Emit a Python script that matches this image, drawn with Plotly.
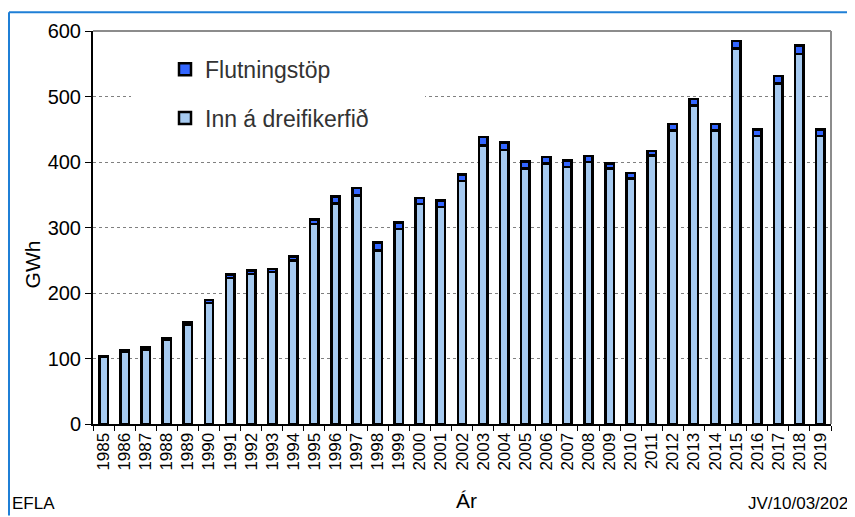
import plotly.graph_objects as go

years = [str(y) for y in range(1985, 2020)]
inn_a_dreifikerfid = [102, 110, 114, 128, 151, 185, 223, 229, 232, 250,
                      305, 337, 349, 265, 298, 336, 331, 371, 425, 418,
                      390, 398, 392, 400, 390, 375, 410, 448, 486, 448,
                      573, 440, 520, 565, 440]
flutningstop = [2, 2, 3, 3, 4, 4, 5, 5, 5, 6,
                7, 10, 11, 12, 10, 9, 10, 10, 13, 12,
                11, 10, 10, 9, 8, 8, 7, 10, 10, 10,
                12, 10, 11, 13, 10]
y_ticks = [0, 100, 200, 300, 400, 500, 600]

FONT = "Liberation Sans, Arial, sans-serif"

# page offset introduced by the default body margin of the html page
OFF = 8
# plot area in page pixels
L, R, T, B = 93, 831, 25, 424
W, H = 855, 517
pw, ph = R - L, B - T


def px(x):
    return (x - L) / pw


def py(y):
    return (B - y) / ph


fig = go.Figure()
fig.add_trace(go.Bar(
    x=years, y=inn_a_dreifikerfid, name="Inn á dreifikerfið",
    legendgroup="inn", legendrank=2,
    marker=dict(color="#a6caf0", line=dict(color="black", width=2.5)),
))
fig.add_trace(go.Bar(
    x=years, y=flutningstop, name="Flutningstöp",
    legendgroup="flut", legendrank=1,
    marker=dict(color="#3366ff", line=dict(color="black", width=2.5)),
))

shapes = [
    # white patch behind legend (interrupts the 500 gridline)
    dict(type="rect", xref="paper", yref="paper", x0=px(131), x1=px(425),
         y0=py(145), y1=py(40), fillcolor="white", line=dict(width=0), layer="above"),
    # grey frame top/right
    dict(type="line", xref="paper", yref="paper", x0=0, x1=1, y0=1, y1=1,
         line=dict(color="#8c8c8c", width=2)),
    dict(type="line", xref="paper", yref="paper", x0=1, x1=1, y0=0, y1=1,
         line=dict(color="#8c8c8c", width=2)),
    # blue outer border
    dict(type="line", xref="paper", yref="paper", x0=px(9), x1=px(9), y0=py(517), y1=py(6),
         line=dict(color="#1f7fd6", width=2)),
    dict(type="line", xref="paper", yref="paper", x0=px(9), x1=px(852), y0=py(6), y1=py(6),
         line=dict(color="#1f7fd6", width=2)),
    dict(type="line", xref="paper", yref="paper", x0=px(852), x1=px(852), y0=py(6), y1=py(517),
         line=dict(color="#1f7fd6", width=2)),
]

annotations = [
    dict(text="GWh", xref="paper", yref="paper", x=px(32), y=py(262), textangle=-90,
         showarrow=False, font=dict(size=21, color="black", family=FONT),
         xanchor="center", yanchor="middle"),
    dict(text="Ár", xref="paper", yref="paper", x=px(466), y=py(502),
         showarrow=False, font=dict(size=21, color="black", family=FONT),
         xanchor="center", yanchor="middle"),
    dict(text="EFLA", xref="paper", yref="paper", x=px(10), y=py(505),
         showarrow=False, font=dict(size=17, color="black", family=FONT),
         xanchor="left", yanchor="middle"),
    dict(text="JV/10/03/202", xref="paper", yref="paper", x=px(850), y=py(505),
         showarrow=False, font=dict(size=17, color="black", family=FONT),
         xanchor="right", yanchor="middle"),
]

fig.update_layout(
    width=W - OFF, height=H - OFF,
    margin=dict(l=L - OFF, r=W - R, t=T - OFF, b=H - B, pad=0),
    paper_bgcolor="white", plot_bgcolor="white",
    barmode="stack", bargap=0.6,
    font=dict(family=FONT, color="black"),
    showlegend=True,
    legend=dict(
        x=px(165), y=py(42), xanchor="left", yanchor="top",
        bgcolor="rgba(0,0,0,0)", traceorder="grouped", tracegroupgap=16,
        font=dict(size=23, color="#333333", family=FONT),
    ),
    xaxis=dict(
        type="category", tickangle=-90, tickson="boundaries",
        ticks="outside", ticklen=5, tickcolor="black",
        showline=True, linecolor="black", linewidth=2,
        tickfont=dict(size=17, color="black", family=FONT),
        showgrid=False, fixedrange=True,
    ),
    yaxis=dict(
        range=[0, 600], tickvals=y_ticks, ticks="outside", ticklen=6, tickcolor="black",
        showline=True, linecolor="black", linewidth=2,
        showgrid=True, gridcolor="#808080", gridwidth=1, griddash="dot",
        tickfont=dict(size=20, color="black", family=FONT),
        zeroline=False, fixedrange=True,
    ),
    shapes=shapes,
    annotations=annotations,
)

fig.write_html("out.html")
